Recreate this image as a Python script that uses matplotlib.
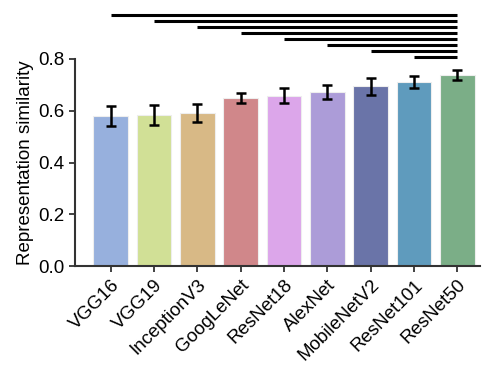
import numpy as np
import matplotlib.pyplot as plt

plt.rcParams['font.family'] = ['Liberation Sans', 'DejaVu Sans']

models = ['VGG16', 'VGG19', 'InceptionV3', 'GoogLeNet', 'ResNet18',
          'AlexNet', 'MobileNetV2', 'ResNet101', 'ResNet50']
similarity = [0.580, 0.584, 0.591, 0.649, 0.658, 0.672, 0.694, 0.711, 0.738]
sem = [0.040, 0.039, 0.034, 0.021, 0.030, 0.027, 0.032, 0.023, 0.019]
colors = ['#97b0dd', '#d1e096', '#d8b986', '#d0878a', '#dca6ea',
          '#ac9cd8', '#6a74a8', '#5f9bbd', '#7bae87']
# significance brackets: each model vs ResNet50
sig_from = ['VGG16', 'VGG19', 'InceptionV3', 'GoogLeNet', 'ResNet18',
            'AlexNet', 'MobileNetV2', 'ResNet101']
sig_to = 'ResNet50'
sig_heights = [0.971, 0.948, 0.925, 0.902, 0.878, 0.855, 0.831, 0.807]

fig = plt.figure(figsize=(4.87, 3.66), dpi=100)
ax = fig.add_axes([0.154, 0.273, 0.832, 0.566])

x = np.arange(len(models))
ax.bar(x, similarity, width=0.8, color=colors, edgecolor='#eeeeee', linewidth=0.8)
ax.errorbar(x, similarity, yerr=sem, fmt='none', ecolor='black',
            elinewidth=1.8, capsize=3.5, capthick=1.8)

end = models.index(sig_to)
for name, h in zip(sig_from, sig_heights):
    start = models.index(name)
    ax.plot([start, end], [h, h], color='black', lw=2.2, clip_on=False,
            solid_capstyle='butt')

ax.set_xlim(-0.82, 8.53)
ax.set_ylim(0, 0.8)
ax.set_yticks([0, 0.2, 0.4, 0.6, 0.8])
ax.set_yticklabels(['0.0', '0.2', '0.4', '0.6', '0.8'])
ax.set_xticks(x)
ax.set_xticklabels(models, rotation=45, ha='right', rotation_mode='anchor')
ax.set_ylabel('Representation similarity', fontsize=13.5, labelpad=3)
ax.tick_params(labelsize=13.5, width=1.3, length=4, color='#333333')
for s in ['top', 'right']:
    ax.spines[s].set_visible(False)
for s in ['left', 'bottom']:
    ax.spines[s].set_linewidth(1.5)
    ax.spines[s].set_color('#333333')

fig.savefig('out.png', dpi=100)
